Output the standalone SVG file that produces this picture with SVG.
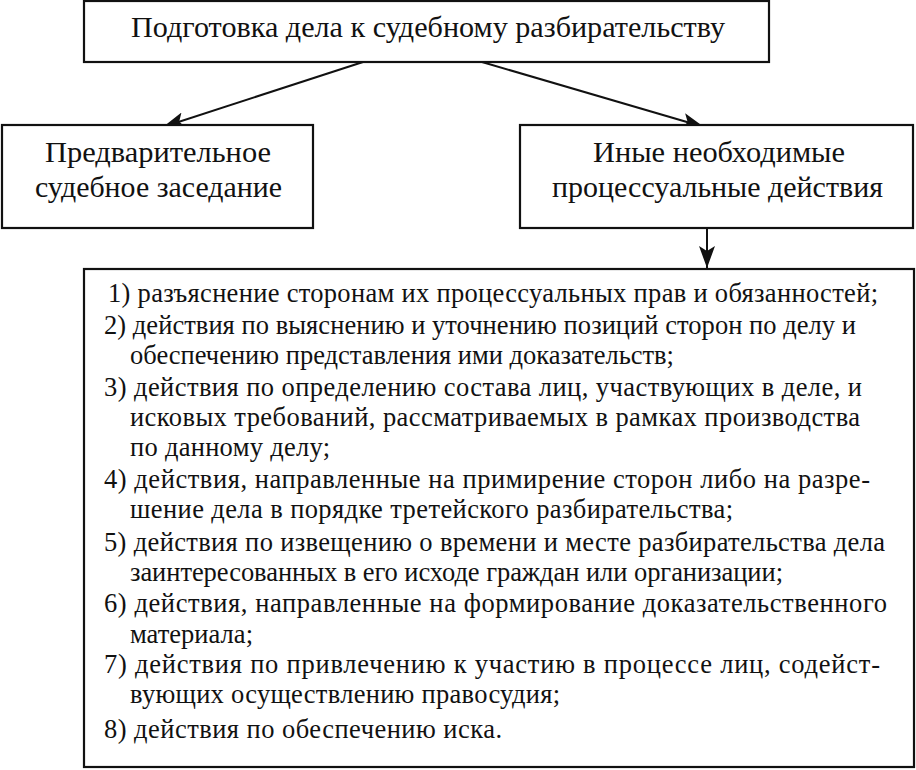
<svg xmlns="http://www.w3.org/2000/svg" width="916" height="770" viewBox="0 0 916 770">
<style>
.box{fill:#fff;stroke:#111;stroke-width:2.2}
.t{font-family:"Liberation Serif","Times New Roman",serif;fill:#111}
.h{font-size:30px}
.l{font-size:26.5px}
.c{stroke:#111;stroke-width:2;fill:none}
</style>
<defs>
<marker id="ah" markerUnits="userSpaceOnUse" markerWidth="24" markerHeight="18" refX="22" refY="9" orient="auto">
<path d="M0,1 L22,9 L0,17 L5,9 Z" fill="#111"/>
</marker>
</defs>
<rect width="916" height="770" fill="#fff"/>
<g id="connectors">
<line class="c" x1="363" y1="62" x2="163" y2="127" marker-end="url(#ah)"/>
<line class="c" x1="482" y1="62" x2="704" y2="127" marker-end="url(#ah)"/>
<line class="c" x1="707" y1="228" x2="707" y2="268" marker-end="url(#ah)"/>
</g>
<g id="node-top">
<rect class="box" x="84" y="1" width="685" height="61"/>
<text class="t h" x="131" y="37" textLength="594" lengthAdjust="spacingAndGlyphs">Подготовка дела к судебному разбирательству</text>
</g>
<g id="node-left">
<rect class="box" x="2" y="125" width="311" height="103"/>
<text class="t h" x="45" y="162" textLength="226" lengthAdjust="spacingAndGlyphs">Предварительное</text>
<text class="t h" x="35" y="197" textLength="247" lengthAdjust="spacingAndGlyphs">судебное заседание</text>
</g>
<g id="node-right">
<rect class="box" x="520" y="125" width="393" height="103"/>
<text class="t h" x="593" y="162" textLength="252" lengthAdjust="spacingAndGlyphs">Иные необходимые</text>
<text class="t h" x="552" y="197" textLength="331" lengthAdjust="spacingAndGlyphs">процессуальные действия</text>
</g>
<g id="node-list">
<rect class="box" x="84" y="269" width="830" height="498"/>
<g class="t l">
<text x="108" y="302" textLength="770">1) разъяснение сторонам их процессуальных прав и обязанностей;</text>
<text x="104" y="334" textLength="752">2) действия по выяснению и уточнению позиций сторон по делу и</text>
<text x="130" y="364">обеспечению представления ими доказательств;</text>
<text x="104" y="396" textLength="758">3) действия по определению состава лиц, участвующих в деле, и</text>
<text x="130" y="426" textLength="730">исковых требований, рассматриваемых в рамках производства</text>
<text x="130" y="456" textLength="200">по данному делу;</text>
<text x="104" y="488" textLength="766">4) действия, направленные на примирение сторон либо на разре-</text>
<text x="130" y="518" textLength="603">шение дела в порядке третейского разбирательства;</text>
<text x="104" y="551" textLength="781">5) действия по извещению о времени и месте разбирательства дела</text>
<text x="130" y="581" textLength="653">заинтересованных в его исходе граждан или организации;</text>
<text x="104" y="612" textLength="783">6) действия, направленные на формирование доказательственного</text>
<text x="130" y="643" textLength="123">материала;</text>
<text x="104" y="673" textLength="776">7) действия по привлечению к участию в процессе лиц, содейст-</text>
<text x="130" y="703" textLength="430">вующих осуществлению правосудия;</text>
<text x="104" y="738" textLength="398">8) действия по обеспечению иска.</text>
</g>
</g>
</svg>
